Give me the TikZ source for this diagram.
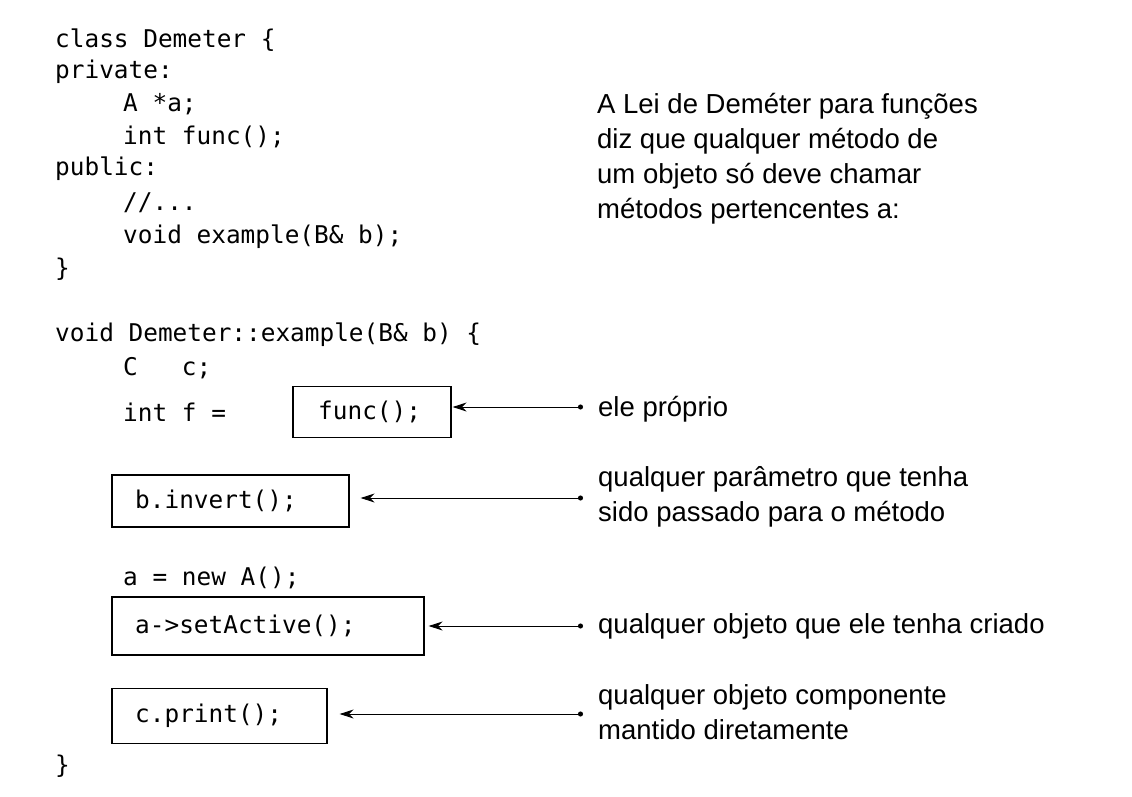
\documentclass[tikz,border=0pt]{standalone}
\usepackage{fontspec}
\setmainfont{Liberation Sans}
\newfontfamily\codef{DejaVu Sans Mono}
\usetikzlibrary{arrows.meta}
\begin{document}
\begin{tikzpicture}[x=1pt,y=-1pt,
 code/.style={anchor=west,inner sep=0pt,font=\codef\fontsize{24.4}{28}\selectfont},
 txt/.style={anchor=west,inner sep=0pt,align=left,font=\fontsize{27.5}{35}\selectfont},
 box/.style={draw,line width=1.2pt,inner sep=0pt},
 arr/.style={line width=1pt,{Stealth[length=14pt,width=9pt]}-{Circle[length=5pt]}}]
\useasboundingbox (0,0) rectangle (1132,796);
\node[code] (l1) at (55,40) {class Demeter \{};
\node[code] (l2) at (55,72) {private:};
\node[code] (l3) at (123,104) {A *a;};
\node[code] (l4) at (123,137) {int func();};
\node[code] (l5) at (55,169) {public:};
\node[code] (l6) at (123,203) {//...};
\node[code] (l7) at (123,237) {void example(B\& b);};
\node[code] (l8) at (55,269) {\}};
\node[code] (l9) at (55,335) {void Demeter::example(B\& b) \{};
\node[code] (l10) at (123,368) {C\ \ \ c;};
\node[code] (l11) at (123,412) {int f =};
\node[code] (l13) at (123,578) {a = new A();};
\node[code] (l16) at (55,766) {\}};
\node[box,minimum width=158pt,minimum height=51pt] (b1) at (372,412) {};
\node[code] at (318,412) {func();};
\node[box,minimum width=237pt,minimum height=52pt] (b2) at (230.5,501) {};
\node[code] at (135,501) {b.invert();};
\node[box,minimum width=312pt,minimum height=58pt] (b3) at (268,626) {};
\node[code] at (135,626) {a->setActive();};
\node[box,minimum width=215pt,minimum height=55pt] (b4) at (219.5,716) {};
\node[code] at (135,716) {c.print();};
\node[txt] (t0) at (597,159) {A Lei de Deméter para funções\\diz que qualquer método de\\um objeto só deve chamar\\métodos pertencentes a:};
\node[txt] (t1) at (598,409) {ele próprio};
\node[txt] (t2) at (598,497) {qualquer parâmetro que tenha\\sido passado para o método};
\node[txt] (t3) at (598,626) {qualquer objeto que ele tenha criado};
\node[txt] (t4) at (598,712) {qualquer objeto componente\\mantido diretamente};
\coordinate (e1) at (583,407);
\coordinate (e2) at (583,498);
\coordinate (e3) at (583,626);
\coordinate (e4) at (583,714);
\draw[arr] (b1.east|-e1) ++(1,0) -- (e1);
\draw[arr] (b2.east|-e2) ++(11,0) -- (e2);
\draw[arr] (b3.east|-e3) ++(4,0) -- (e3);
\draw[arr] (b4.east|-e4) ++(12,0) -- (e4);
\end{tikzpicture}
\end{document}
